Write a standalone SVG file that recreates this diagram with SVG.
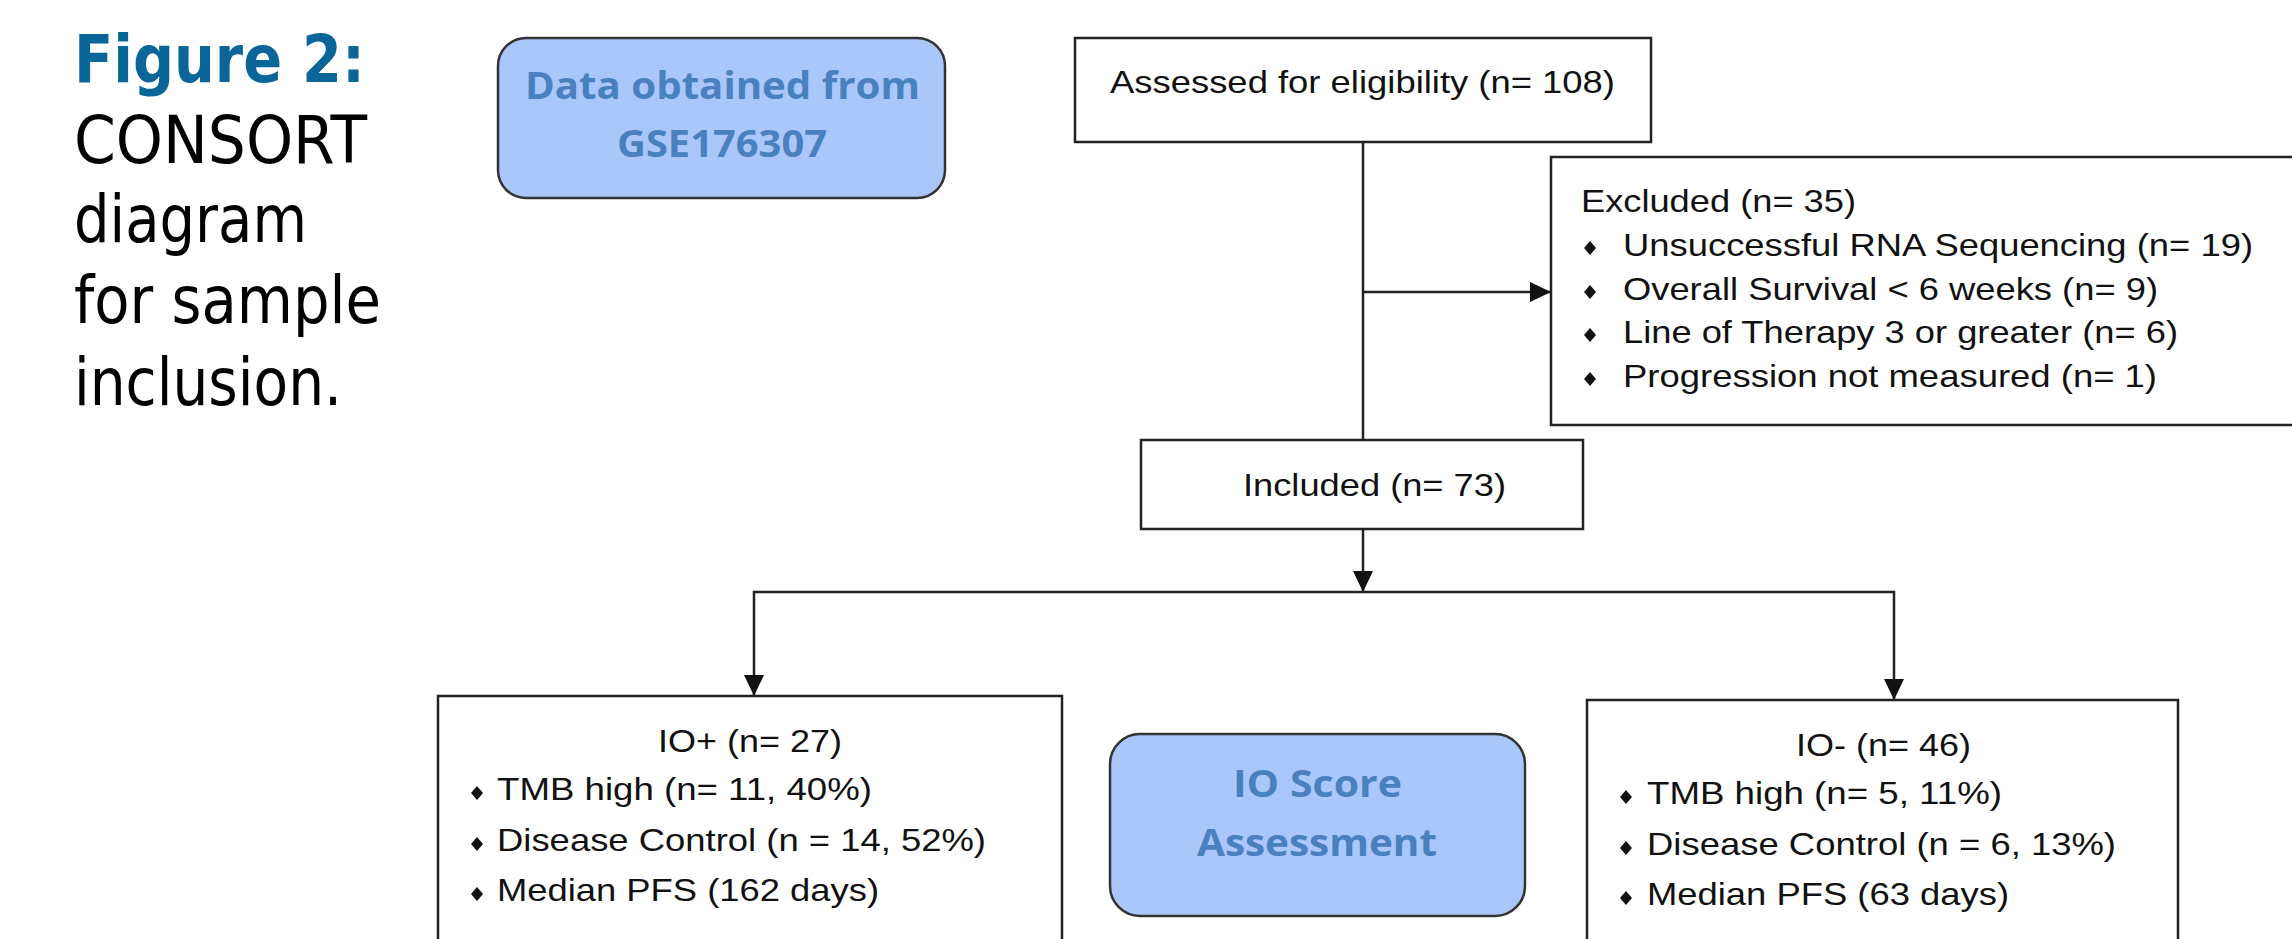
<svg xmlns="http://www.w3.org/2000/svg" width="2292" height="939" viewBox="0 0 2292 939">
<style>
.box{fill:#ffffff;stroke:#222222;stroke-width:2.5}
.rbox{fill:#a9c7fa;stroke:#333333;stroke-width:2.5}
.t{font-family:"Liberation Sans",Arial,sans-serif;font-size:32px;fill:#111111}
.bt{font-family:"Open Sans","DejaVu Sans",sans-serif;font-weight:bold;font-size:38px;fill:#4a80be}
.cap{font-family:"DejaVu Sans",Tahoma,sans-serif;font-size:66px;fill:#000000}
.fig{font-family:"DejaVu Sans",Tahoma,sans-serif;font-weight:bold;font-size:66px;fill:#0a6699}
.ln{fill:none;stroke:#222222;stroke-width:2.5}
</style>
<defs>
<marker id="arr" markerUnits="userSpaceOnUse" markerWidth="22" markerHeight="22" viewBox="0 0 22 22" refX="21" refY="11" orient="auto">
<path d="M0,1 L21,11 L0,21 Z" fill="#111111"/>
</marker>
<path id="dia" d="M0,-7 L6,0 L0,7 L-6,0 Z" fill="#111111"/>
</defs>

<g id="caption">
<text class="fig" x="74" y="82" textLength="291" lengthAdjust="spacingAndGlyphs">Figure 2:</text>
<text class="cap" x="74" y="163" textLength="293" lengthAdjust="spacingAndGlyphs">CONSORT</text>
<text class="cap" x="74" y="242" textLength="233" lengthAdjust="spacingAndGlyphs">diagram</text>
<text class="cap" x="74" y="323" textLength="307" lengthAdjust="spacingAndGlyphs">for sample</text>
<text class="cap" x="74" y="405" textLength="268" lengthAdjust="spacingAndGlyphs">inclusion.</text>
</g>

<g id="connectors">
<line class="ln" x1="1363" y1="142" x2="1363" y2="440"/>
<line class="ln" x1="1363" y1="292" x2="1551" y2="292" marker-end="url(#arr)"/>
<line class="ln" x1="1363" y1="529" x2="1363" y2="592" marker-end="url(#arr)"/>
<polyline class="ln" points="1363,592 754,592 754,696" marker-end="url(#arr)"/>
<polyline class="ln" points="1363,592 1894,592 1894,700" marker-end="url(#arr)"/>
</g>

<g id="node-data">
<rect class="rbox" x="498" y="38" width="447" height="160" rx="28" ry="28"/>
<text class="bt" x="525" y="99" textLength="395" lengthAdjust="spacingAndGlyphs">Data obtained from</text>
<text class="bt" x="617" y="157" textLength="210" lengthAdjust="spacingAndGlyphs">GSE176307</text>
</g>

<g id="node-assessed">
<rect class="box" x="1075" y="38" width="576" height="104"/>
<text class="t" x="1110" y="93" textLength="505" lengthAdjust="spacingAndGlyphs">Assessed for eligibility (n= 108)</text>
</g>

<g id="node-excluded">
<rect class="box" x="1551" y="157" width="760" height="268"/>
<text class="t" x="1581" y="212" textLength="275" lengthAdjust="spacingAndGlyphs">Excluded (n= 35)</text>
<use href="#dia" x="1590" y="248"/>
<text class="t" x="1623" y="256" textLength="630" lengthAdjust="spacingAndGlyphs">Unsuccessful RNA Sequencing (n= 19)</text>
<use href="#dia" x="1590" y="292"/>
<text class="t" x="1623" y="300" textLength="535" lengthAdjust="spacingAndGlyphs">Overall Survival &lt; 6 weeks (n= 9)</text>
<use href="#dia" x="1590" y="335"/>
<text class="t" x="1623" y="343" textLength="555" lengthAdjust="spacingAndGlyphs">Line of Therapy 3 or greater (n= 6)</text>
<use href="#dia" x="1590" y="379"/>
<text class="t" x="1623" y="387" textLength="534" lengthAdjust="spacingAndGlyphs">Progression not measured (n= 1)</text>
</g>

<g id="node-included">
<rect class="box" x="1141" y="440" width="442" height="89"/>
<text class="t" x="1243" y="496" textLength="263" lengthAdjust="spacingAndGlyphs">Included (n= 73)</text>
</g>

<g id="node-ioplus">
<rect class="box" x="438" y="696" width="624" height="280"/>
<text class="t" x="658" y="752" textLength="184" lengthAdjust="spacingAndGlyphs">IO+ (n= 27)</text>
<use href="#dia" x="477" y="793"/>
<text class="t" x="497" y="800" textLength="375" lengthAdjust="spacingAndGlyphs">TMB high (n= 11, 40%)</text>
<use href="#dia" x="477" y="844"/>
<text class="t" x="497" y="851" textLength="489" lengthAdjust="spacingAndGlyphs">Disease Control (n = 14, 52%)</text>
<use href="#dia" x="477" y="894"/>
<text class="t" x="497" y="901" textLength="382" lengthAdjust="spacingAndGlyphs">Median PFS (162 days)</text>
</g>

<g id="node-ioscore">
<rect class="rbox" x="1110" y="734" width="415" height="182" rx="30" ry="30"/>
<text class="bt" x="1233" y="797" textLength="169" lengthAdjust="spacingAndGlyphs">IO Score</text>
<text class="bt" x="1197" y="856" textLength="240" lengthAdjust="spacingAndGlyphs">Assessment</text>
</g>

<g id="node-iominus">
<rect class="box" x="1587" y="700" width="591" height="280"/>
<text class="t" x="1796" y="756" textLength="175" lengthAdjust="spacingAndGlyphs">IO- (n= 46)</text>
<use href="#dia" x="1626" y="797"/>
<text class="t" x="1647" y="804" textLength="355" lengthAdjust="spacingAndGlyphs">TMB high (n= 5, 11%)</text>
<use href="#dia" x="1626" y="848"/>
<text class="t" x="1647" y="855" textLength="469" lengthAdjust="spacingAndGlyphs">Disease Control (n = 6, 13%)</text>
<use href="#dia" x="1626" y="898"/>
<text class="t" x="1647" y="905" textLength="362" lengthAdjust="spacingAndGlyphs">Median PFS (63 days)</text>
</g>
</svg>
